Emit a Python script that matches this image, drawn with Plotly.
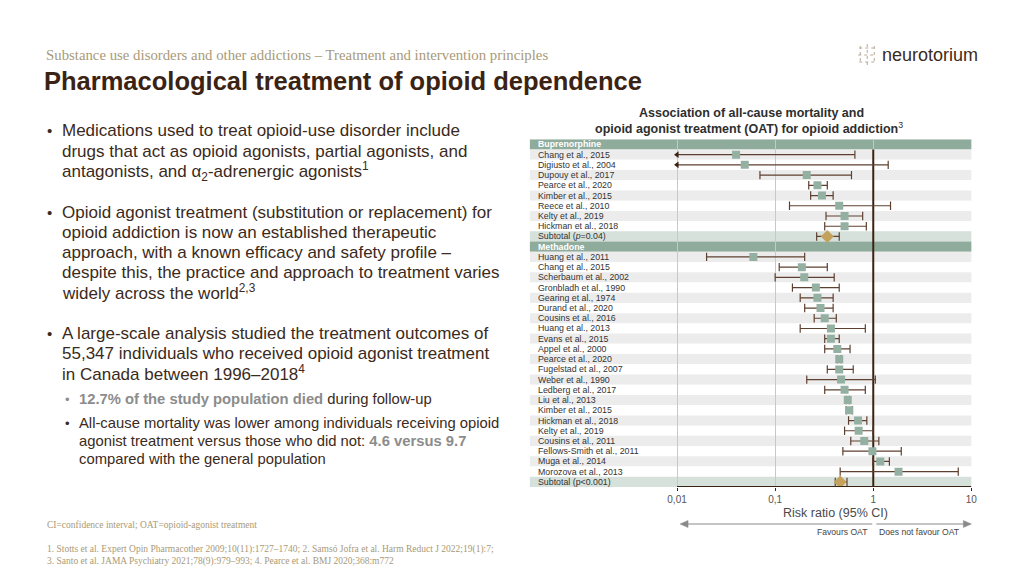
import plotly.graph_objects as go

# ---- data ----
bup_studies = ["Chang et al., 2015", "Digiusto et al., 2004", "Dupouy et al., 2017",
               "Pearce et al., 2020", "Kimber et al., 2015", "Reece et al., 2010",
               "Kelty et al., 2019", "Hickman et al., 2018"]
bup_rr = [0.040, 0.049, 0.21, 0.27, 0.30, 0.45, 0.51, 0.51]
bup_lo = [0.003, 0.003, 0.070, 0.22, 0.23, 0.14, 0.33, 0.32]
bup_hi = [0.65, 1.42, 0.60, 0.34, 0.39, 1.50, 0.78, 0.85]
bup_subtotal = [0.34, 0.265, 0.45]  # rr, lo, hi

met_studies = ["Huang et al., 2011", "Chang et al., 2015", "Scherbaum et al., 2002",
               "Gronbladh et al., 1990", "Gearing et al., 1974", "Durand et al., 2020",
               "Cousins et al., 2016", "Huang et al., 2013", "Evans et al., 2015",
               "Appel et al., 2000", "Pearce et al., 2020", "Fugelstad et al., 2007",
               "Weber et al., 1990", "Ledberg et al., 2017", "Liu et al., 2013",
               "Kimber et al., 2015", "Hickman et al., 2018", "Kelty et al., 2019",
               "Cousins et al., 2011", "Fellows-Smith et al., 2011", "Muga et al., 2014",
               "Morozova et al., 2013"]
met_rr = [0.060, 0.187, 0.198, 0.26, 0.27, 0.29, 0.32, 0.37, 0.37, 0.43, 0.45,
          0.45, 0.47, 0.51, 0.55, 0.57, 0.70, 0.71, 0.81, 0.98, 1.18, 1.81]
met_lo = [0.020, 0.11, 0.10, 0.15, 0.18, 0.20, 0.25, 0.18, 0.32, 0.32, 0.43,
          0.34, 0.21, 0.32, 0.53, 0.53, 0.56, 0.51, 0.59, 0.49, 0.99, 0.46]
met_hi = [0.20, 0.34, 0.40, 0.45, 0.39, 0.39, 0.42, 0.83, 0.45, 0.58, 0.47,
          0.625, 1.05, 0.83, 0.57, 0.61, 0.86, 0.99, 1.14, 1.93, 1.46, 7.35]
met_subtotal = [0.46, 0.41, 0.54]

tick_vals = [0.01, 0.1, 1, 10]
tick_text = ["0,01", "0,1", "1", "10"]
axis_min = 0.01

# ---- colours ----
DARK = "#3b2314"
BROWN = "#5e4030"
SAGE = "#94b0a3"
GOLD = "#c4a25c"
HEADER = "#8fab9c"
GREY_ROW = "#ececec"
SUB_ROW = "#d6e1db"
TAN = "#a89a78"
FONT = "Liberation Sans"

W, H = 1024, 576


def px(x):
    return x / W


def py(y):
    return 1 - y / H


def rx(x):
    # right-hand panel positions, nudged to line up with the slide
    return px(x + 3 + (x - 530) * 0.007)


# build the list of rows (top to bottom)
rows = [("Buprenorphine", "header", None)]
for i, s in enumerate(bup_studies):
    rows.append((s, "study", (bup_rr[i], bup_lo[i], bup_hi[i])))
rows.append(("Subtotal (<i>p</i>=0.04)", "subtotal", tuple(bup_subtotal)))
rows.append(("Methadone", "header", None))
for i, s in enumerate(met_studies):
    rows.append((s, "study", (met_rr[i], met_lo[i], met_hi[i])))
rows.append(("Subtotal (p&lt;0.001)", "subtotal", tuple(met_subtotal)))
n_rows = len(rows)

fig = go.Figure()
shapes = []
annotations = []

# row backgrounds and labels
stripe = 0
for i, (label, kind, vals) in enumerate(rows):
    if kind == "header":
        color = HEADER
        stripe = 0
    elif kind == "subtotal":
        color = SUB_ROW
    else:
        color = GREY_ROW if stripe % 2 == 0 else "white"
        stripe += 1
    shapes.append(dict(type="rect", xref="paper", yref="y", x0=rx(530), x1=rx(971),
                       y0=i - 0.5, y1=i + 0.5, fillcolor=color, line_width=0,
                       layer="below"))
    annotations.append(dict(
        x=rx(536), y=i, xref="paper", yref="y", xanchor="left", yanchor="middle",
        text="<b>" + label + "</b>" if kind == "header" else label, showarrow=False,
        font=dict(family=FONT, size=8.8, color="white" if kind == "header" else "#333333")))

# CI lines, caps and arrows
line_x, line_y = [], []
cap_x, cap_y = [], []
arr_x, arr_y = [], []
box_x, box_y = [], []
dia_x, dia_y = [], []
for i, (label, kind, vals) in enumerate(rows):
    if vals is None:
        continue
    rr, lo, hi = vals
    lo_draw = max(lo, axis_min)
    line_x += [lo_draw, hi, None]
    line_y += [i, i, None]
    cap_x.append(hi)
    cap_y.append(i)
    if lo < axis_min:
        arr_x.append(axis_min)
        arr_y.append(i)
    else:
        cap_x.append(lo)
        cap_y.append(i)
    if kind == "study":
        box_x.append(rr)
        box_y.append(i)
    else:
        dia_x.append(rr)
        dia_y.append(i)

fig.add_trace(go.Scatter(x=line_x, y=line_y, mode="lines",
                         line=dict(color=BROWN, width=1.2), hoverinfo="skip"))
fig.add_trace(go.Scatter(x=cap_x, y=cap_y, mode="markers",
                         marker=dict(symbol="line-ns", size=6,
                                     line=dict(color=BROWN, width=1.2)),
                         hoverinfo="skip"))
fig.add_trace(go.Scatter(x=arr_x, y=arr_y, mode="markers",
                         marker=dict(symbol="triangle-left", size=6, color=DARK),
                         hoverinfo="skip"))
fig.add_trace(go.Scatter(x=box_x, y=box_y, mode="markers",
                         marker=dict(symbol="square", size=8, color=SAGE),
                         hoverinfo="skip"))
fig.add_trace(go.Scatter(x=dia_x, y=dia_y, mode="markers",
                         marker=dict(symbol="diamond", size=10, color=GOLD),
                         hoverinfo="skip"))

# line of no effect and axis line
shapes.append(dict(type="line", xref="x", yref="y", x0=1, x1=1, y0=0.5,
                   y1=n_rows - 0.5, line=dict(color=DARK, width=2), layer="between"))
shapes.append(dict(type="line", xref="x", yref="y", x0=tick_vals[0], x1=tick_vals[-1],
                   y0=n_rows - 0.5, y1=n_rows - 0.5, line=dict(color=DARK, width=2)))


# ---- text helper ----
def add_text(x, y, text, size, color, family=FONT, anchor="left", right=False):
    annotations.append(dict(x=rx(x) if right else px(x), y=py(y), xref="paper",
                            yref="paper", xanchor=anchor, yanchor="middle", text=text,
                            showarrow=False,
                            font=dict(family=family, size=size, color=color)))


# chart title and axis texts
add_text(751, 113, "<b>Association of all-cause mortality and</b>", 12.5, "#2e2e2e",
         anchor="center", right=True)
add_text(749, 128, "<b>opioid agonist treatment (OAT) for opioid addiction</b><sup>3</sup>",
         12.5, "#2e2e2e", anchor="center", right=True)
add_text(835, 513, "Risk ratio (95% CI)", 12.5, "#4a4a4a", anchor="center", right=True)
add_text(870, 532, "Favours OAT", 8.6, "#444444", anchor="right", right=True)
add_text(877, 532, "Does not favour OAT", 8.6, "#444444", right=True)

# favour arrows drawn as shapes (line + triangle head)
ARROW = "#8a8a8a"
for head, tail, d in [(680, 872, 1), (971, 876, -1)]:
    shapes.append(dict(type="line", xref="paper", yref="paper", x0=rx(tail), x1=rx(head + 6 * d),
                       y0=py(524), y1=py(524), line=dict(color=ARROW, width=1.2)))
    path = "M %f,%f L %f,%f L %f,%f Z" % (rx(head), py(524), rx(head + 8 * d), py(520.5),
                                          rx(head + 8 * d), py(527.5))
    shapes.append(dict(type="path", xref="paper", yref="paper", path=path,
                       fillcolor=ARROW, line=dict(color=ARROW, width=0.5)))

# ---- slide text ----
add_text(44, 55, "Substance use disorders and other addictions – Treatment and intervention principles",
         14.8, TAN, family="Liberation Serif")
add_text(42, 81, "<b>Pharmacological treatment of opioid dependence</b>", 25.5, DARK)
add_text(880, 55, "neurotorium", 18, "#3b2a20", right=True)

BODY = "#3b2a20"
GREY_TXT = "#8c8c8c"
body_lines = [
    (130, True, "Medications used to treat opioid-use disorder include"),
    (151, False, "drugs that act as opioid agonists, partial agonists, and"),
    (171, False, "antagonists, and α<sub>2</sub>-adrenergic agonists<sup>1</sup>"),
    (212, True, "Opioid agonist treatment (substitution or replacement) for"),
    (232, False, "opioid addiction is now an established therapeutic"),
    (252, False, "approach, with a known efficacy and safety profile –"),
    (272, False, "despite this, the practice and approach to treatment varies"),
    (292, False, "widely across the world<sup>2,3</sup>"),
    (333, True, "A large-scale analysis studied the treatment outcomes of"),
    (353, False, "55,347 individuals who received opioid agonist treatment"),
    (373, False, "in Canada between 1996–2018<sup>4</sup>"),
]
for y, bullet, txt in body_lines:
    if bullet:
        add_text(45, y, "•", 15, BODY)
    add_text(60, y, txt, 17, BODY)

grey_open = "<b><span style='color:" + GREY_TXT + "'>"
grey_close = "</span></b>"
sub_lines = [
    (399, True, grey_open + "12.7% of the study population died" + grey_close + " during follow-up"),
    (423, True, "All-cause mortality was lower among individuals receiving opioid"),
    (441, False, "agonist treatment versus those who did not: " + grey_open + "4.6 versus 9.7" + grey_close),
    (459, False, "compared with the general population"),
]
for y, bullet, txt in sub_lines:
    if bullet:
        add_text(63, y, "•", 13, GREY_TXT if y == 399 else BODY)
    add_text(77, y, txt, 14.8, BODY)

add_text(45, 525, "CI=confidence interval; OAT=opioid-agonist treatment", 9.5, TAN,
         family="Liberation Serif")
add_text(45, 549, "1. Stotts et al. Expert Opin Pharmacother 2009;10(11):1727–1740; 2. Samsó Jofra et al. Harm Reduct J 2022;19(1):7;",
         9.5, TAN, family="Liberation Serif")
add_text(45, 561, "3. Santo et al. JAMA Psychiatry 2021;78(9):979–993; 4. Pearce et al. BMJ 2020;368:m772",
         9.5, TAN, family="Liberation Serif")

# small logo glyph
for x0, y0, x1, y1 in [(867, 44, 867, 67), (859, 48, 875, 48), (858, 55, 876, 55),
                       (859, 62, 875, 62), (860, 46, 860, 64), (874, 46, 874, 64)]:
    shapes.append(dict(type="line", xref="paper", yref="paper", x0=rx(x0), y0=py(y0),
                       x1=rx(x1), y1=py(y1), line=dict(color="#b8aa96", width=1, dash="dot")))

fig.update_layout(
    width=W, height=H,
    margin=dict(l=0, r=0, t=0, b=0),
    paper_bgcolor="white", plot_bgcolor="white",
    showlegend=False,
    font=dict(family=FONT),
    xaxis=dict(type="log", range=[-3.5, 1], domain=[rx(530), rx(971)],
               tickvals=tick_vals, ticktext=tick_text, showgrid=True,
               gridcolor="#c8c8c8", gridwidth=1, zeroline=False, showline=False,
               ticks="outside", ticklen=3, tickcolor=DARK,
               tickfont=dict(family=FONT, size=10, color="#555555"), fixedrange=True),
    yaxis=dict(range=[n_rows - 0.5, -0.5], domain=[py(487), py(139.3)],
               visible=False, fixedrange=True),
    shapes=shapes,
    annotations=annotations,
)

# drop the default page margin / scrollbars so the figure fills the window exactly
page_js = ("document.body.style.margin='0';"
           "document.documentElement.style.overflow='hidden';"
           "document.body.style.overflow='hidden';")
fig.write_html("out.html", post_script=page_js, config={"displayModeBar": False})
